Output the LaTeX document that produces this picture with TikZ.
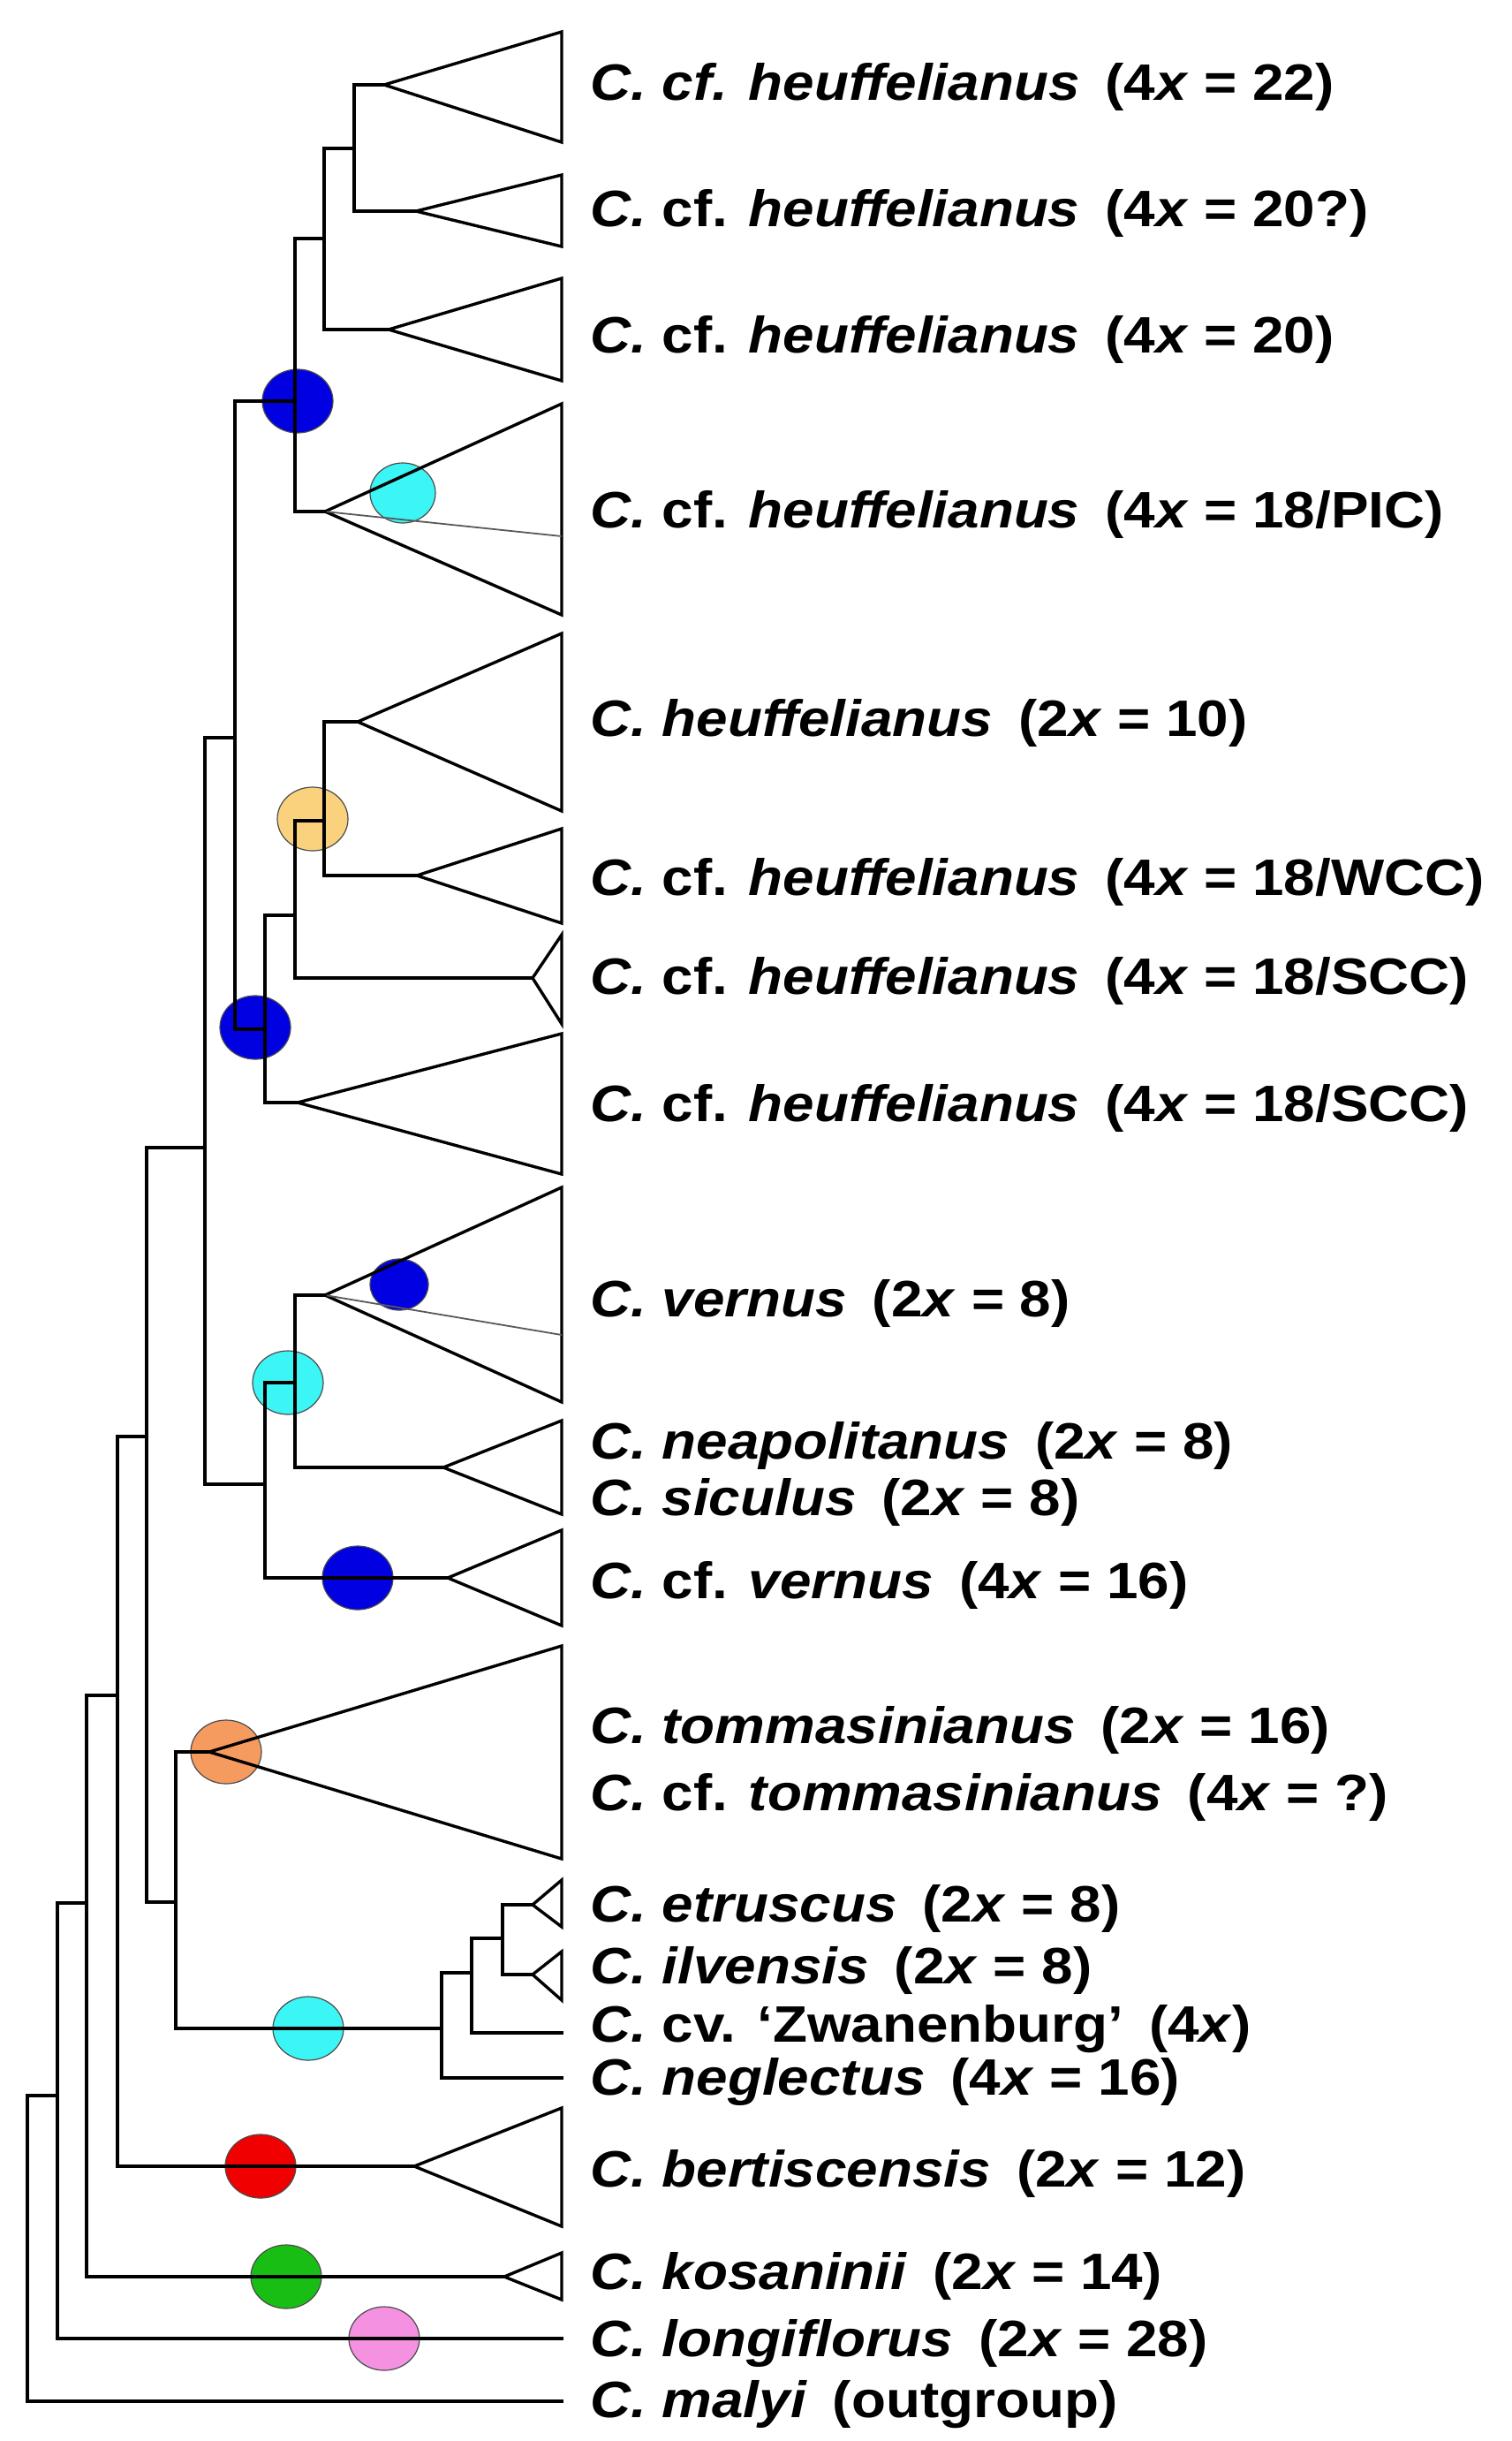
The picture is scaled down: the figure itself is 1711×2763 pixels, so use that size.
\documentclass[tikz,border=0pt]{standalone}
\usepackage{fontspec}
\setmainfont{Liberation Sans}[FakeStretch=1.1]
\usetikzlibrary{shapes.geometric}
\begin{document}
\begin{tikzpicture}[x=1pt,y=-1pt,
  br/.style={line width=3.6pt,line join=miter,line cap=rect},
  tri/.style={line width=3.4pt,line join=miter},
  gl/.style={line width=1.8pt,gray!70!black},
  el/.style={line width=1.2pt,draw=black!70,minimum width=80pt,minimum height=72pt,ellipse,inner sep=0pt},
  lab/.style={anchor=west,font=\fontsize{58}{60}\selectfont\bfseries,inner sep=0pt}]
\useasboundingbox (0,0) rectangle (1711,2763);
\definecolor{cblue}{RGB}{0,0,225}
\definecolor{ccyan}{RGB}{60,245,245}
\definecolor{ctan}{RGB}{250,210,125}
\definecolor{corange}{RGB}{245,155,95}
\definecolor{cred}{RGB}{240,0,0}
\definecolor{cgreen}{RGB}{25,190,20}
\definecolor{cpink}{RGB}{245,145,225}
\def\R{636}
\def\G{\hspace{0.5em}}
% ellipses
\node[el,fill=cblue] (e1) at (337,454) {};
\node[el,fill=ccyan,minimum width=74pt,minimum height=68pt] (e2) at (456,558) {};
\node[el,fill=ctan] (e3) at (354,927) {};
\node[el,fill=cblue] (e4) at (289,1163) {};
\node[el,fill=cblue,minimum width=66pt,minimum height=58pt] (e5) at (452,1454) {};
\node[el,fill=ccyan] (e6) at (326,1565) {};
\node[el,fill=cblue] (e7) at (405,1786) {};
\node[el,fill=corange] (e8) at (256,1983) {};
\node[el,fill=ccyan] (e9) at (349,2296) {};
\node[el,fill=cred] (e10) at (295,2452) {};
\node[el,fill=cgreen] (e11) at (324,2577) {};
\node[el,fill=cpink] (e12) at (435,2647) {};
% triangles
\newcommand{\clade}[4]{\draw[tri] (\R,#3) -- (#1,#2) -- (\R,#4) -- cycle;}
\clade{435}{96}{36}{161}
\clade{471}{239}{198}{279}
\clade{440}{373}{315}{431}
\clade{368}{579}{457}{696}
\draw[gl] (368,579) -- (\R,607);
\clade{405}{817}{717}{918}
\clade{472}{991}{938}{1045}
\clade{603}{1107}{1058}{1159}
\clade{337}{1248}{1170}{1329}
\clade{368}{1466}{1344}{1587}
\draw[gl] (368,1466) -- (\R,1511);
\clade{502}{1661}{1608}{1714}
\clade{507}{1786}{1732}{1840}
\clade{237}{1983}{1863}{2104}
\clade{603}{2156}{2128}{2181}
\clade{603}{2235}{2209}{2264}
\clade{469}{2452}{2386}{2520}
\clade{571}{2577}{2550}{2603}
% branches
\draw[br] (435,96) -| (401,239) -- (471,239);
\draw[br] (401,168) -| (367,373) -- (440,373);
\draw[br] (367,270) -| (334,579) -- (368,579);
\draw[br] (334,454) -| (266,1165) -- (300,1165);
\draw[br] (405,817) -| (367,991) -- (472,991);
\draw[br] (367,929) -| (334,1107) -- (603,1107);
\draw[br] (334,1036) -| (300,1248) -- (337,1248);
\draw[br] (266,835) -| (232,1680) -- (300,1680);
\draw[br] (368,1466) -| (334,1661) -- (502,1661);
\draw[br] (334,1565) -| (300,1786) -- (507,1786);
\draw[br] (232,1299) -| (166,2153) -- (199,2153);
\draw[br] (237,1983) -| (199,2296) -- (500,2296);
\draw[br] (603,2156) -| (569,2235) -- (603,2235);
\draw[br] (569,2194) -| (534,2301) -- (\R,2301);
\draw[br] (534,2233) -| (500,2352) -- (\R,2352);
\draw[br] (166,1626) -| (133,2452) -- (469,2452);
\draw[br] (133,1919) -| (98,2577) -- (571,2577);
\draw[br] (98,2154) -| (65,2647) -- (\R,2647);
\draw[br] (65,2372) -| (31,2718) -- (\R,2718);
% labels
\def\X{668}
\node[lab] (t1) at (\X,98) {\textit{C. cf. heuffelianus}\G(4\textit{x} = 22)};
\node[lab] (t2) at (\X,241) {\textit{C.} cf. \textit{heuffelianus}\G(4\textit{x} = 20?)};
\node[lab] (t3) at (\X,384) {\textit{C.} cf. \textit{heuffelianus}\G(4\textit{x} = 20)};
\node[lab] (t4) at (\X,582) {\textit{C.} cf. \textit{heuffelianus}\G(4\textit{x} = 18/PIC)};
\node[lab] (t5) at (\X,818) {\textit{C. heuffelianus}\G(2\textit{x} = 10)};
\node[lab] (t6) at (\X,998) {\textit{C.} cf. \textit{heuffelianus}\G(4\textit{x} = 18/WCC)};
\node[lab] (t7) at (\X,1110) {\textit{C.} cf. \textit{heuffelianus}\G(4\textit{x} = 18/SCC)};
\node[lab] (t8) at (\X,1254) {\textit{C.} cf. \textit{heuffelianus}\G(4\textit{x} = 18/SCC)};
\node[lab] (t9) at (\X,1475) {\textit{C. vernus}\G(2\textit{x} = 8)};
\node[lab] (t10) at (\X,1636) {\textit{C. neapolitanus}\G(2\textit{x} = 8)};
\node[lab] (t11) at (\X,1700) {\textit{C. siculus}\G(2\textit{x} = 8)};
\node[lab] (t12) at (\X,1794) {\textit{C.} cf. \textit{vernus}\G(4\textit{x} = 16)};
\node[lab] (t13) at (\X,1958) {\textit{C. tommasinianus}\G(2\textit{x} = 16)};
\node[lab] (t14) at (\X,2034) {\textit{C.} cf. \textit{tommasinianus}\G(4\textit{x} = ?)};
\node[lab] (t15) at (\X,2160) {\textit{C. etruscus}\G(2\textit{x} = 8)};
\node[lab] (t16) at (\X,2230) {\textit{C. ilvensis}\G(2\textit{x} = 8)};
\node[lab] (t17) at (\X,2297) {\textit{C.} cv. ‘Zwanenburg’\G(4\textit{x})};
\node[lab] (t18) at (\X,2356) {\textit{C. neglectus}\G(4\textit{x} = 16)};
\node[lab] (t19) at (\X,2460) {\textit{C. bertiscensis}\G(2\textit{x} = 12)};
\node[lab] (t20) at (\X,2576) {\textit{C. kosaninii}\G(2\textit{x} = 14)};
\node[lab] (t21) at (\X,2652) {\textit{C. longiflorus}\G(2\textit{x} = 28)};
\node[lab] (t22) at (\X,2722) {\textit{C. malyi}\G(outgroup)};
\end{tikzpicture}
\end{document}
